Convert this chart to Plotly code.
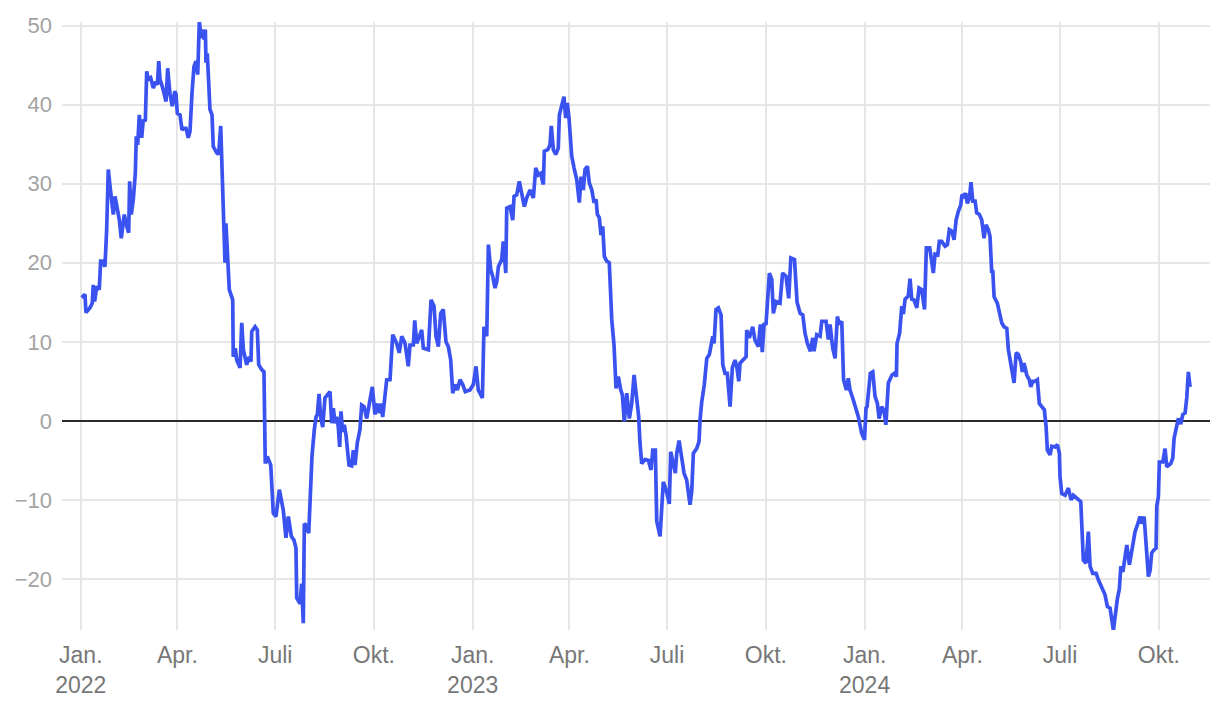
import pandas as pd
import plotly.graph_objects as go

# Days elapsed since 2022-01-01 and the plotted value
day_offsets = [
    0.8, 3.9, 4.8, 8.6, 10.7, 11.6, 12.9, 14.8, 17.2, 18.5, 20.4, 22.5, 24.1, 25.6, 27.2, 28.8,
    30.3, 31.9, 34.0, 35.9, 37.7, 40.5, 42.8, 44.6, 45.5, 47.0, 48.9, 50.8, 51.7, 53.0, 54.5,
    56.7, 58.2, 60.1, 61.4, 62.9, 65.1, 67.5, 69.8, 71.3, 72.6, 73.8, 76.3, 79.4, 80.9, 83.1,
    85.2, 87.5, 88.7, 89.9, 92.4, 94.3, 96.1, 98.0, 100.1, 101.7, 103.6, 105.4, 107.3, 108.9,
    110.4, 112.2, 113.8, 115.0, 116.0, 116.6, 117.8, 120.3, 122.2, 123.4, 126.6, 128.4, 130.3,
    132.7, 134.3, 135.2, 136.8, 138.3, 141.5, 142.0, 143.9, 145.2, 148.3, 149.9, 151.4, 154.5,
    156.9, 158.5, 159.2, 162.3, 164.4, 165.7, 168.5, 170.6, 171.8, 173.7, 176.9, 179.3, 181.8,
    184.9, 188.6, 191.1, 193.3, 196.1, 198.6, 200.4, 201.1, 204.2, 205.7, 207.2, 208.2, 209.8,
    212.3, 213.5, 215.3, 217.5, 219.1, 220.3, 221.9, 223.4, 225.3, 227.4, 230.0, 232.1, 233.7,
    235.2, 236.8, 238.3, 239.8, 241.1, 242.3, 243.9, 245.4, 247.0, 249.8, 252.3, 253.8, 255.4,
    257.5, 260.0, 261.6, 263.8, 266.3, 268.7, 271.5, 274.0, 275.6, 278.0, 279.6, 281.2, 282.7,
    284.9, 288.0, 290.5, 294.2, 296.6, 298.9, 302.0, 305.0, 306.6, 309.7, 311.0, 312.9, 315.3,
    317.5, 319.0, 323.7, 326.2, 329.0, 330.8, 333.0, 335.2, 337.6, 340.1, 342.3, 344.5, 346.4,
    348.5, 350.7, 353.2, 355.7, 358.1, 362.5, 365.6, 368.1, 370.2, 374.0, 375.5, 378.1, 379.6,
    381.8, 383.6, 385.8, 387.4, 388.9, 392.0, 393.5, 395.8, 396.7, 399.8, 402.3, 403.5, 406.0,
    408.4, 410.7, 413.1, 415.3, 418.4, 421.5, 423.7, 426.1, 428.3, 430.8, 431.7, 434.9, 437.0,
    438.2, 440.1, 442.3, 444.7, 445.7, 447.9, 450.0, 451.6, 453.1, 454.7, 457.2, 459.4, 461.9,
    464.3, 465.9, 468.0, 469.6, 471.8, 473.6, 475.9, 478.0, 479.9, 481.1, 482.9, 484.5, 486.1,
    487.6, 489.8, 492.2, 494.5, 496.6, 498.5, 500.6, 502.9, 504.4, 506.2, 508.5, 510.9, 513.1,
    515.3, 517.8, 519.6, 520.8, 522.4, 525.5, 528.6, 531.1, 532.7, 535.1, 536.4, 539.5, 541.1,
    542.5, 545.1, 548.1, 549.4, 551.8, 553.7, 555.0, 557.2, 559.7, 561.8, 564.3, 567.4, 569.0,
    570.5, 573.6, 575.8, 576.7, 578.3, 580.7, 583.0, 585.4, 587.0, 588.6, 589.8, 591.6, 593.8,
    596.3, 597.9, 600.0, 602.1, 604.7, 606.8, 609.3, 610.9, 612.8, 614.0, 617.1, 619.6, 620.2,
    622.6, 625.8, 627.9, 631.0, 632.9, 634.7, 636.3, 638.2, 639.4, 641.3, 643.5, 645.0, 647.5,
    651.2, 653.6, 656.8, 659.3, 661.3, 664.7, 667.1, 669.9, 672.4, 674.5, 676.7, 679.5, 681.7,
    682.9, 685.4, 688.5, 690.1, 694.1, 696.2, 697.8, 700.3, 702.5, 704.6, 706.5, 708.7, 710.4,
    713.0, 714.8, 716.4, 718.9, 722.0, 724.2, 727.3, 729.9, 731.3, 732.3, 735.3, 737.6, 739.7,
    741.9, 743.5, 746.0, 748.1, 749.8, 752.1, 755.5, 757.7, 759.6, 760.2, 762.6, 764.6, 766.1,
    767.7, 770.7, 772.3, 773.9, 776.0, 778.6, 780.7, 783.2, 785.8, 787.5, 790.6, 794.0, 795.6,
    798.2, 799.6, 801.8, 804.9, 807.1, 808.9, 811.2, 813.3, 815.2, 817.3, 819.5, 820.7, 822.6,
    824.2, 825.7, 827.6, 829.1, 830.7, 832.9, 834.4, 836.9, 839.1, 841.2, 843.1, 845.2, 846.8,
    848.4, 849.3, 850.6, 853.6, 855.5, 857.7, 859.9, 862.4, 863.9, 866.1, 869.2, 871.1, 873.2,
    875.4, 876.9, 878.5, 881.0, 883.4, 884.7, 886.6, 888.7, 890.9, 892.7, 895.0, 897.4, 899.0,
    900.2, 902.7, 904.3, 907.4, 909.5, 911.4, 912.0, 913.6, 916.7, 919.8, 922.3, 924.4, 929.1,
    931.3, 933.7, 936.2, 938.4, 940.0, 942.5, 945.6, 947.7, 950.9, 953.9, 956.1, 958.6, 961.7,
    963.3, 965.4, 967.3, 968.6, 970.5, 972.6, 974.2, 976.6, 979.1, 981.9, 984.0, 986.5, 988.1,
    990.3, 992.1, 994.3, 995.9, 997.4, 999.6, 1001.4, 1002.1, 1003.6, 1004.5, 1007.7, 1009.8,
    1011.4, 1015.1, 1017.0, 1018.2, 1020.1, 1022.2, 1024.5, 1026.3, 1028.5, 1030.0, 1031.5,
    1033.1,
]

values = [
    15.6, 16.0, 13.7, 14.3, 14.9, 17.2, 15.1, 17.0, 16.6, 20.2, 20.2, 19.5, 24.2, 31.8, 29.7, 27.6,
    26.1, 28.4, 26.7, 25.4, 23.1, 26.1, 24.6, 23.8, 30.3, 26.1, 28.0, 31.4, 36.0, 34.9, 38.7,
    35.8, 38.1, 37.9, 44.2, 43.2, 43.4, 42.1, 42.9, 42.5, 45.5, 43.2, 42.1, 40.4, 44.6, 41.3,
    39.8, 41.7, 41.3, 38.9, 38.7, 36.8, 37.0, 37.0, 35.8, 36.6, 41.5, 44.8, 45.5, 43.8,
    50.5, 48.4, 49.5, 48.2, 49.5, 45.3, 46.5, 39.4, 38.7, 34.7, 33.9, 33.7, 37.3,
    27.1, 20.0, 25.0, 20.0, 16.6, 15.3, 8.1, 9.2, 7.7, 6.7, 12.4, 9.0, 7.1,
    8.1, 7.5, 11.3, 11.9, 11.5, 7.1, 6.5, 6.2, -5.4, -4.5, -5.6, -11.7, -12.1,
    -8.7, -11.3, -14.8, -12.1, -14.6, -15.1, -16.1, -22.4, -23.1, -20.6, -25.6, -13.0, -13.2,
    -14.2, -9.8, -4.5, -1.1, 0.5, 0.8, 3.4, 0.5, -0.8, 2.9, 3.3, 3.7, -0.3,
    1.6, -0.3, 0.5, -0.7, -3.3, 1.2, -1.4, -0.5, -1.8, -5.6, -5.7, -3.7, -5.6,
    -2.8, -1.1, 2.0, 1.8, 0.3, 2.2, 4.3, 0.8, 2.2, 1.0, 2.2, 0.5, 2.7,
    5.2, 5.2, 10.9, 9.8, 8.6, 10.7, 9.8, 6.9, 9.6, 9.6, 12.7, 9.8, 10.9,
    11.5, 9.2, 9.0, 15.3, 14.5, 10.7, 9.4, 13.6, 14.1, 10.0, 9.4, 7.7, 3.5,
    4.6, 3.9, 5.2, 4.6, 3.7, 3.9, 4.6, 6.9, 3.9, 2.9, 11.9, 10.7, 22.3,
    19.1, 18.3, 16.8, 17.6, 19.5, 20.4, 22.7, 18.7, 26.9, 27.1, 25.4, 28.4, 28.6,
    30.3, 28.6, 27.1, 28.2, 29.2, 28.2, 32.0, 31.1, 31.3, 29.9, 34.1, 34.3, 34.9,
    37.3, 34.3, 33.7, 34.5, 38.7, 39.8, 41.0, 38.3, 40.2, 38.3, 33.5, 32.0, 30.5,
    27.6, 30.9, 29.2, 31.8, 32.2, 30.1, 29.2, 27.6, 28.0, 26.1, 25.7, 23.5, 24.6,
    20.8, 20.2, 20.0, 12.8, 9.6, 4.1, 5.6, 3.9, 3.3, -0.1, 3.5, 0.3, 2.2,
    5.8, 3.1, 0.5, -2.8, -5.4, -4.9, -5.0, -6.2, -3.7, -3.7, -12.7, -14.6, -10.8,
    -7.7, -8.7, -10.5, -3.9, -5.4, -6.6, -4.1, -2.5, -4.7, -6.6, -7.5, -10.6, -8.9,
    -4.1, -3.5, -2.6, 0.1, 2.4, 4.6, 7.9, 8.4, 9.8, 10.7, 9.8, 14.1, 14.3,
    13.4, 7.1, 6.0, 6.0, 1.8, 6.7, 7.7, 6.9, 5.0, 7.3, 7.7, 8.1, 11.5,
    10.5, 11.9, 10.2, 9.4, 12.2, 8.7, 12.2, 12.3, 15.3, 18.7, 17.9, 13.6, 15.1,
    14.9, 18.7, 18.3, 15.5, 20.6, 20.4, 15.0, 13.6, 13.4, 11.1, 9.8, 8.8, 10.5,
    8.8, 10.9, 10.7, 12.6, 12.6, 10.3, 12.2, 9.2, 7.9, 13.2, 12.2, 12.6, 5.2,
    3.9, 5.4, 3.9, 2.9, 1.6, 0.5, -1.6, -2.4, 1.6, 1.8, 6.0, 6.2, 3.1,
    2.2, 0.3, 1.8, 1.3, -0.5, 4.8, 5.8, 6.0, 5.6, 9.8, 11.1, 14.5, 13.5,
    15.4, 15.8, 18.0, 15.4, 15.3, 14.3, 16.8, 16.6, 14.1, 21.9, 21.9, 18.7, 21.1,
    21.0, 22.7, 22.7, 22.1, 22.3, 24.2, 24.0, 22.9, 25.4, 26.5, 27.3, 28.6, 28.4,
    28.8, 27.5, 28.2, 30.2, 27.8, 27.8, 26.3, 26.1, 25.4, 23.1, 24.8, 24.2, 23.3,
    18.7, 19.1, 15.7, 14.9, 13.6, 12.4, 11.9, 11.7, 9.0, 7.3, 4.8, 8.6, 8.4,
    7.5, 6.2, 7.3, 5.8, 5.2, 4.3, 5.0, 5.0, 5.2, 2.2, 1.8, 1.4, -0.7,
    -3.7, -4.3, -3.2, -3.3, -3.0, -4.1, -7.1, -9.2, -9.4, -8.5, -10.0, -9.4, -10.0,
    -10.2, -17.6, -18.0, -14.0, -18.4, -19.3, -19.3, -20.1, -21.2, -22.0, -23.5, -23.7, -26.5,
    -24.4, -22.5, -21.2, -18.4, -19.1, -16.7, -15.7, -18.2, -16.3, -14.0, -13.2, -12.1, -13.0,
    -12.1, -15.5, -19.7, -18.9, -16.7, -16.3, -16.1, -10.8, -9.6, -5.2, -5.2, -3.5,
    -5.8, -5.4, -4.7, -2.2, -0.9, 0.3, -0.4, 0.8, 1.0, 2.9, 6.2,
    4.3,
]

tick_dates = ["2022-01-01", "2022-04-01", "2022-07-01", "2022-10-01",
              "2023-01-01", "2023-04-01", "2023-07-01", "2023-10-01",
              "2024-01-01", "2024-04-01", "2024-07-01", "2024-10-01"]
tick_labels = ["Jan.<br>2022", "Apr.", "Juli", "Okt.",
               "Jan.<br>2023", "Apr.", "Juli", "Okt.",
               "Jan.<br>2024", "Apr.", "Juli", "Okt."]
y_ticks = [-20, -10, 0, 10, 20, 30, 40, 50]
y_labels = ["\u221220", "\u221210", "0", "10", "20", "30", "40", "50"]

n = min(len(day_offsets), len(values))
dates = pd.Timestamp("2022-01-01") + pd.to_timedelta(day_offsets[:n], unit="D")

fig = go.Figure()
fig.add_trace(go.Scatter(
    x=dates, y=values[:n], mode="lines",
    line=dict(color="#3a53f0", width=3.7),
    hoverinfo="skip",
))

font_family = "Liberation Sans, Arial, Helvetica, sans-serif"
fig.update_layout(
    width=1220, height=706,
    margin=dict(l=62, r=10, t=22, b=76),
    paper_bgcolor="white", plot_bgcolor="white",
    showlegend=False,
    font=dict(family=font_family, size=22),
)
fig.update_xaxes(
    type="date",
    range=["2021-12-14 12:00", "2024-11-17 16:00"],
    tickvals=tick_dates, ticktext=tick_labels,
    tickfont=dict(color="#777777", size=23, family=font_family),
    showgrid=True, gridcolor="#e6e6e6", gridwidth=2,
    showline=False, zeroline=False, ticks="",
    ticklabelstandoff=9, automargin=False,
)
fig.update_yaxes(
    range=[-26.45, 50.45],
    tickvals=y_ticks, ticktext=y_labels,
    tickfont=dict(color="#a3a3a3", size=22, family=font_family),
    showgrid=True, gridcolor="#e6e6e6", gridwidth=2,
    zeroline=True, zerolinecolor="#2b2b2b", zerolinewidth=2,
    showline=False, ticks="",
    ticklabelstandoff=9, automargin=False,
)

fig.write_html("out.html")
